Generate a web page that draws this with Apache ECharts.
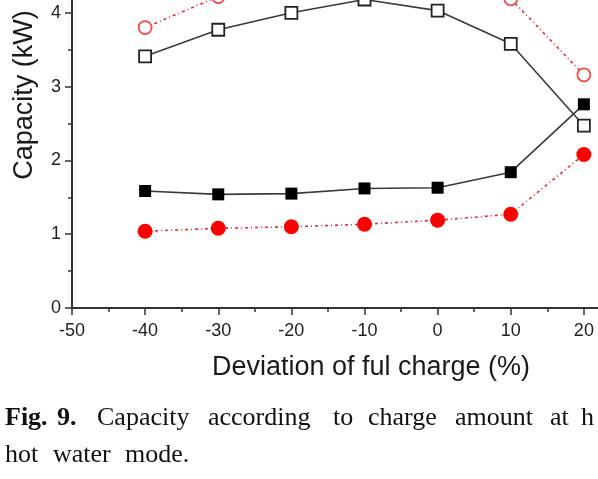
<!DOCTYPE html>
<html>
<head>
<meta charset="utf-8">
<script src="https://cdn.jsdelivr.net/npm/echarts@6/dist/echarts.min.js"></script>
<style>
  html, body { margin: 0; padding: 0; background: #fff; overflow: hidden; width: 598px; height: 479px; }
  /* the figure is a crop: the plot runs past the top and right edges */
  #capacityChart { position: absolute; left: 0; top: -80px; width: 700px; height: 560px; }
</style>
</head>
<body>
<div id="capacityChart"></div>
<script>
// deviation of full charge (%)
var deviation = [-40, -30, -20, -10, 0, 10, 20];
// capacity (kW)
var openSquare   = [3.41, 3.77, 4.00, 4.18, 4.03, 3.58, 2.47];
var filledSquare = [1.585, 1.54, 1.55, 1.62, 1.63, 1.84, 2.76];
var openCircle   = [3.80, 4.22, 4.35, 4.40, 4.35, 4.19, 3.16];
var filledCircle = [1.04, 1.08, 1.10, 1.135, 1.19, 1.27, 2.08];

function pairs(ys) {
  return deviation.map(function (x, i) { return [x, ys[i]]; });
}

var OFF = 80; // container is shifted up by this much
var sansFont = 'Liberation Sans, Arial, sans-serif';
var serifFont = 'Liberation Serif, Times New Roman, serif';

var chart = echarts.init(document.getElementById('capacityChart'));

var blackLine = { color: '#3a3a3a', width: 1.6 };
var redLine = { color: '#ee2a2a', width: 1.6, type: [3, 3, 1, 3] };

// caption words, placed like the justified line in the paper
var captionWords = [
  ['Fig.', 5, true], ['9.', 57, true], ['Capacity', 97], ['according', 208],
  ['to', 333], ['charge', 368], ['amount', 455], ['at', 550], ['h', 581]
];
var captionTwo = [['hot', 5], ['water', 53], ['mode.', 125]];

var graphics = [
  {
    type: 'text', x: 25, y: 95 + OFF, rotation: Math.PI / 2,
    style: { text: 'Capacity (kW)', font: '27px ' + sansFont, fill: '#1a1a1a',
             align: 'center', verticalAlign: 'middle' }
  },
  {
    type: 'text', x: 371, y: 368 + OFF,
    style: { text: 'Deviation of ful charge (%)', font: '27px ' + sansFont, fill: '#1a1a1a',
             align: 'center', verticalAlign: 'middle' }
  }
];
captionWords.forEach(function (w) {
  graphics.push({
    type: 'text', x: w[1], y: 418 + OFF,
    style: { text: w[0], font: (w[2] ? 'bold ' : '') + '26px ' + serifFont, fill: '#111',
             align: 'left', verticalAlign: 'middle' }
  });
});
captionTwo.forEach(function (w) {
  graphics.push({
    type: 'text', x: w[1], y: 455 + OFF,
    style: { text: w[0], font: '26px ' + serifFont, fill: '#111',
             align: 'left', verticalAlign: 'middle' }
  });
});

var option = {
  animation: false,
  backgroundColor: '#fff',
  grid: { left: 72, right: 43, top: 19, bottom: 172, containLabel: false },
  xAxis: {
    type: 'value', min: -50, max: 30, interval: 10,
    axisLine: { onZero: false, lineStyle: { color: '#333', width: 2 } },
    axisTick: { show: true, inside: false, length: 7, lineStyle: { color: '#333', width: 1.5 } },
    minorTick: { show: true, splitNumber: 2, length: 4, lineStyle: { color: '#333', width: 1.5 } },
    splitLine: { show: false },
    axisLabel: { fontFamily: sansFont, fontSize: 18, color: '#222', margin: 14 }
  },
  yAxis: {
    type: 'value', min: 0, max: 5, interval: 1,
    axisLine: { show: true, onZero: false, lineStyle: { color: '#333', width: 2 } },
    axisTick: { show: true, inside: false, length: 7, lineStyle: { color: '#333', width: 1.5 } },
    minorTick: { show: true, splitNumber: 2, length: 4, lineStyle: { color: '#333', width: 1.5 } },
    splitLine: { show: false },
    axisLabel: { fontFamily: sansFont, fontSize: 18, color: '#222', margin: 11 }
  },
  series: [
    {
      name: 'open square', type: 'line', data: pairs(openSquare),
      symbol: 'rect', symbolSize: 12, showAllSymbol: true,
      itemStyle: { color: '#fff', borderColor: '#222', borderWidth: 1.8 },
      lineStyle: blackLine
    },
    {
      name: 'filled square', type: 'line', data: pairs(filledSquare),
      symbol: 'rect', symbolSize: 12, showAllSymbol: true,
      itemStyle: { color: '#000', borderColor: '#000', borderWidth: 0 },
      lineStyle: blackLine
    },
    {
      name: 'open circle', type: 'line', data: pairs(openCircle),
      symbol: 'circle', symbolSize: 13, showAllSymbol: true,
      itemStyle: { color: '#fff', borderColor: '#f04a4a', borderWidth: 1.8 },
      lineStyle: redLine
    },
    {
      name: 'filled circle', type: 'line', data: pairs(filledCircle),
      symbol: 'circle', symbolSize: 15, showAllSymbol: true,
      itemStyle: { color: '#ff0000', borderWidth: 0 },
      lineStyle: redLine
    }
  ],
  graphic: graphics
};

chart.setOption(option);
</script>
</body>
</html>
